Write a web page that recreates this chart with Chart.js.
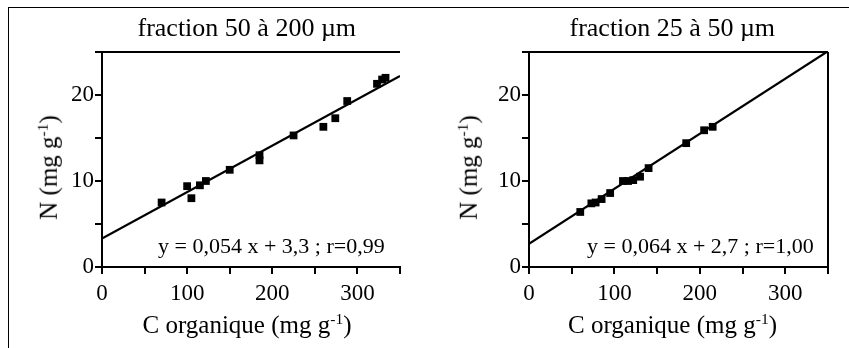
<!DOCTYPE html>
<html>
<head>
<meta charset="utf-8">
<script src="https://cdn.jsdelivr.net/npm/chart.js@4.4.0/dist/chart.umd.min.js"></script>
<style>
  html, body { margin: 0; padding: 0; background: #fff; }
  #wrap { position: relative; width: 849px; height: 348px; overflow: hidden; background: #fff;
          font-family: "Liberation Serif", "DejaVu Serif", serif; color: #000; }
  canvas { position: absolute; top: 0; }
  .txt { position: absolute; white-space: nowrap; line-height: 1; }
  .title { font-size: 26px; top: 15px; }
  .eq { font-size: 22px; top: 235px; }
  .xt { font-size: 25px; top: 312px; }
  .yt { font-size: 25px; transform: rotate(-90deg); transform-origin: center center; }
  sup { font-size: 0.62em; vertical-align: 0; position: relative; top: -0.55em; }
  #frameTop { position: absolute; left: 8px; top: 7px; width: 841px; height: 0; border-top: 1.5px solid #000; }
  #frameLeft { position: absolute; left: 8px; top: 7px; width: 0; height: 341px; border-left: 1.5px solid #000; }
</style>
</head>
<body>
<div id="wrap">
  <div id="frameTop"></div>
  <div id="frameLeft"></div>
  <canvas id="cL" width="440" height="348" style="left:0px"></canvas>
  <canvas id="cR" width="420" height="348" style="left:429px"></canvas>
  <div class="txt title" id="tL">fraction 50 à 200 µm</div>
  <div class="txt title" id="tR">fraction 25 à 50 µm</div>
  <div class="txt eq" id="eL">y = 0,054 x + 3,3 ; r=0,99</div>
  <div class="txt eq" id="eR">y = 0,064 x + 2,7 ; r=1,00</div>
  <div class="txt xt" id="xL">C organique (mg g<sup>-1</sup>)</div>
  <div class="txt xt" id="xR">C organique (mg g<sup>-1</sup>)</div>
  <div class="txt yt" id="yL">N (mg g<sup>-1</sup>)</div>
  <div class="txt yt" id="yR">N (mg g<sup>-1</sup>)</div>
</div>
<script>
// ---- data ----
const xTickLabels = [0, 100, 200, 300];
const yTickLabels = [0, 10, 20];

// fraction 50 à 200 µm
const leftC = [70, 100, 105, 115, 122, 150, 185, 185, 225, 260, 274, 288, 323, 329, 333];
const leftN = [7.5, 9.4, 8.0, 9.5, 10.0, 11.3, 13.0, 12.4, 15.3, 16.3, 17.3, 19.3, 21.3, 21.8, 22.0];
const leftLineC = [0, 350];
const leftLineN = [3.3, 22.2];

// fraction 25 à 50 µm
const rightC = [60, 73, 78, 85, 95, 110, 116, 122, 130, 140, 184, 205, 215];
const rightN = [6.4, 7.4, 7.5, 7.9, 8.6, 10.0, 10.0, 10.1, 10.5, 11.5, 14.4, 15.9, 16.3];
const rightLineC = [0, 350];
const rightLineN = [2.7, 25.1];

function pts(xs, ys) { return xs.map((x, i) => ({ x: x, y: ys[i] })); }

const boxPlugin = {
  id: 'box',
  afterDraw(chart, args, opts) {
    const a = chart.chartArea, ctx = chart.ctx;
    ctx.save();
    ctx.strokeStyle = '#000';
    ctx.lineWidth = 2;
    ctx.beginPath();
    ctx.moveTo(a.left - 6, a.top);
    ctx.lineTo(a.right, a.top);
    if (opts.right) { ctx.moveTo(a.right, a.top); ctx.lineTo(a.right, a.bottom); }
    ctx.stroke();
    ctx.restore();
  }
};

function makeChart(id, sc, sn, lc, ln, padLeft, padRight, boxOpts) {
  const font = { family: '"Liberation Serif", "DejaVu Serif", serif', size: 23 };
  return new Chart(document.getElementById(id), {
    type: 'scatter',
    data: {
      datasets: [
        { data: pts(sc, sn), pointStyle: 'rect', radius: 5.5, backgroundColor: '#000', borderColor: '#000', borderWidth: 0, order: 1 },
        { type: 'line', data: pts(lc, ln), borderColor: '#000', borderWidth: 2.2, pointRadius: 0, fill: false, order: 2 }
      ]
    },
    options: {
      responsive: false,
      animation: false,
      events: [],
      plugins: { legend: { display: false }, tooltip: { enabled: false }, box: boxOpts },
      layout: { padding: { top: 52, right: padRight, left: 0, bottom: 0 } },
      scales: {
        x: {
          type: 'linear', min: 0, max: 350,
          afterFit: s => { s.height = 81; },
          border: { display: true, color: '#000', width: 2 },
          grid: { display: true, drawOnChartArea: false, drawTicks: true, tickLength: 7, color: '#000', lineWidth: 2 },
          ticks: {
            stepSize: 50, autoSkip: false, maxRotation: 0, color: '#000', font: font, padding: 6,
            callback: v => (xTickLabels.includes(v) ? String(v) : '')
          }
        },
        y: {
          type: 'linear', min: 0, max: 25,
          afterFit: s => { s.width = padLeft; },
          border: { display: true, color: '#000', width: 2 },
          grid: { display: true, drawOnChartArea: false, drawTicks: true, tickLength: 7, color: '#000', lineWidth: 2 },
          ticks: {
            stepSize: 5, autoSkip: false, color: '#000', font: font, padding: 1,
            callback: v => (yTickLabels.includes(v) ? String(v) : '')
          }
        }
      }
    },
    plugins: [boxPlugin]
  });
}

const chL = makeChart('cL', leftC, leftN, leftLineC, leftLineN, 102, 40, { right: false });
const chR = makeChart('cR', rightC, rightN, rightLineC, rightLineN, 100, 21, { right: true });

// place texts relative to chart areas
function centerAt(el, cx) { el.style.left = (cx - el.offsetWidth / 2) + 'px'; }
const aL = chL.chartArea, aR = chR.chartArea;
const offR = 429;
centerAt(document.getElementById('tL'), (aL.left + aL.right) / 2 - 4);
centerAt(document.getElementById('tR'), offR + (aR.left + aR.right) / 2 - 6);
centerAt(document.getElementById('xL'), (aL.left + aL.right) / 2 - 4);
centerAt(document.getElementById('xR'), offR + (aR.left + aR.right) / 2 - 6);
const eL = document.getElementById('eL'), eR = document.getElementById('eR');
eL.style.left = (aL.left + 56) + 'px';
eR.style.left = (offR + aR.left + 58) + 'px';
function yTitle(el, cx, cy) {
  el.style.left = (cx - el.offsetWidth / 2) + 'px';
  el.style.top = (cy - el.offsetHeight / 2) + 'px';
}
yTitle(document.getElementById('yL'), 48, (aL.top + aL.bottom) / 2 + 8);
yTitle(document.getElementById('yR'), 468, (aR.top + aR.bottom) / 2 + 8);
</script>
</body>
</html>
